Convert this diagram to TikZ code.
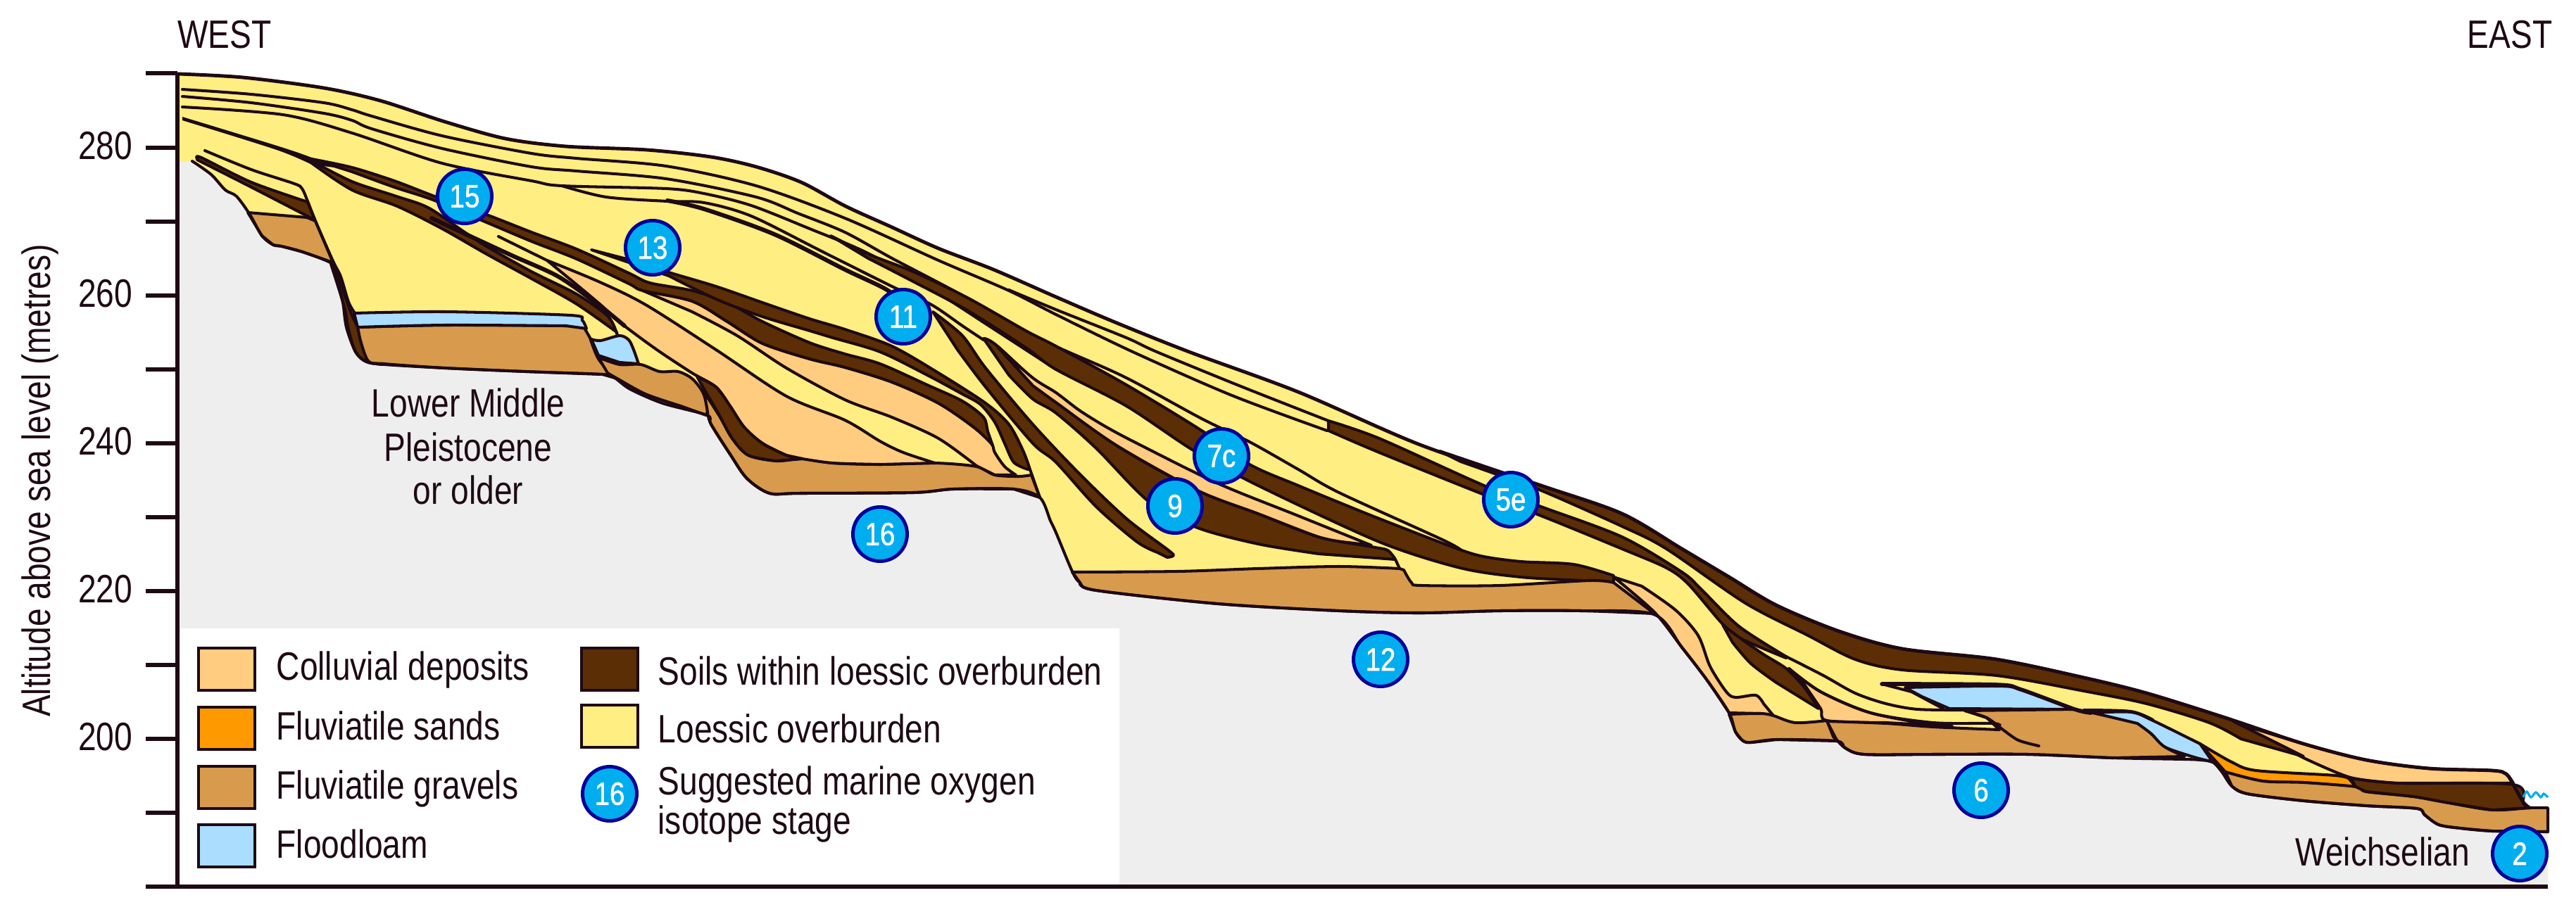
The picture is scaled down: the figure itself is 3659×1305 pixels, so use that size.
\documentclass[tikz,border=0pt]{standalone}
\usepackage{fontspec}
\setmainfont[FakeStretch=0.82]{Liberation Sans}
\newfontfamily\stagefont[FakeStretch=0.84,FakeBold=1.2]{Liberation Sans}
\usetikzlibrary{positioning,patterns}

\definecolor{ink}{HTML}{1E0A14}
\definecolor{groundgrey}{HTML}{EEEEEE}
\definecolor{loessc}{HTML}{FFEE82}
\definecolor{colluvc}{HTML}{FFCC80}
\definecolor{sandc}{HTML}{FF9900}
\definecolor{gravelc}{HTML}{D99A4D}
\definecolor{graveltick}{HTML}{CFA24E}
\definecolor{loamc}{HTML}{AADDFF}
\definecolor{soilc}{HTML}{5C2E06}
\definecolor{stagec}{HTML}{00ADEF}
\definecolor{ringc}{HTML}{000099}

\begin{document}
\begin{tikzpicture}[
    x = 0.01cm,
    y = -0.01cm,
    font = \fontsize{16}{18}\selectfont
  ]

  \tikzstyle {every node} = [color = ink, inner sep = 0]
  \tikzstyle {lyr} = [draw = ink, line width = 1.15pt, line join = round]
  \tikzstyle {seam} = [draw = ink, line width = 1.15pt, line cap = round]
  \tikzstyle {axisline} = [draw = ink, line width = 1.5pt]
  \tikzstyle {colluvial} = [lyr, fill = colluvc]
  \tikzstyle {sandlyr} = [lyr, fill = sandc]
  \tikzstyle {gravelfill} = [preaction = {fill = gravelc}, pattern = crosshatch dots, pattern color = graveltick]
  \tikzstyle {gravel} = [lyr, gravelfill]
  \tikzstyle {loam} = [lyr, fill = loamc]
  \tikzstyle {soil} = [lyr, fill = soilc]
  \tikzstyle {swatch} = [rectangle, draw = ink, line width = 1.3pt, minimum width = 0.8cm, minimum height = 0.6cm]
  \tikzstyle {lgd} = [anchor = base west]
  \tikzstyle {stage} = [circle, draw = ringc, line width = 1.4pt, fill = stagec, minimum size = 0.77cm, text = white, font = \fontsize{13}{13}\stagefont]

  \def\surfacecurve{plot[smooth] coordinates {(253,105) (345,110) (460,125) (540,143) (632,173) (718,197) (804,208) (919,213) (1010,223) (1074,237) (1138,259) (1201,293) (1265,322) (1333,353) (1411,383) (1500,422) (1584,458) (1689,500) (1844,557) (2017,632) (2189,690) (2304,730) (2389,780) (2456,820) (2523,860) (2612,897) (2702,922) (2836,937) (2960,963) (3049,985) (3161,1020) (3272,1057) (3361,1080) (3450,1092) (3540,1095) (3560,1100) (3571,1117) (3584,1140) (3593,1148)}}
  \def\basecurve{plot[smooth] coordinates {(273,229) (300,248) (320,270) (336,279) (355,305) (372,335) (388,348) (400,350) (430,358) (472,375) (478,395) (487,430) (492,465) (505,500) (520,514) (546,518) (632,523) (747,528) (856,532) (873,537) (895,553) (941,573) (1004,590) (1010,603) (1038,647) (1061,680) (1093,701) (1136,701) (1297,700) (1354,695) (1440,695) (1477,707) (1492,740) (1500,757) (1523,812) (1534,828) (1557,839) (1730,858) (1902,868) (2017,871) (2131,868) (2246,868) (2349,873) (2389,920) (2425,967) (2456,1013) (2465,1040) (2476,1053) (2487,1055) (2523,1051) (2608,1053) (2621,1063) (2648,1072) (2746,1072) (2880,1072) (3000,1077) (3103,1079) (3125,1080) (3143,1083) (3156,1097) (3170,1117) (3192,1128) (3272,1138) (3361,1145) (3433,1149) (3444,1158) (3464,1172) (3495,1177) (3540,1181) (3619,1182)}}

  \useasboundingbox (0,0) rectangle (3659,1305);

  % ground and loess body
  \fill [loessc] \surfacecurve -- (3619,1148) -- (3619,1260) -- (253,1260) -- cycle;
  \fill [groundgrey] \basecurve -- (3619,1260) -- (253,1260) -- (253,230) -- cycle;
  \fill [white] (256,893) rectangle (1590,1257);

  % west bench
  \draw [gravel] (352,302) -- (436,309) -- (448,314) -- (473,373) -- (430,358) -- (400,350) -- (388,348) -- (372,335) -- cycle;
  \draw [soil] plot[smooth] coordinates {(280,225) (286,224) (357,259) (437,287)} -- (448,314) -- plot[smooth] coordinates {(446,312) (357,266) (280,227)} -- cycle;
  \draw [seam] plot[smooth] coordinates {(291,214) (357,241) (418,261) (429,268) (437,286) (448,314) (473,371) (484,393) (495,429) (504,445)};
  \draw [soil] plot[smooth] coordinates {(470,375) (489,436) (495,468) (505,500) (521,514) (543,518)} -- plot[smooth] coordinates {(543,516) (521,500) (511,471) (498,443) (473,371)} -- cycle;

  % floodloam and gravels below the loess
  \draw [gravel] plot[smooth] coordinates {(508,465) (632,462) (804,463) (830,466)} -- plot[smooth] coordinates {(838,480) (850,510) (873,537)} -- plot[smooth] coordinates {(856,532) (747,528) (632,523) (546,517) (523,513) (511,480)} -- cycle;
  \draw [loam] plot[smooth] coordinates {(503,445) (632,443) (810,448) (827,455) (833,467)} -- plot[smooth] coordinates {(804,463) (632,462) (508,465)} -- cycle;
  \draw [gravel] plot[smooth] coordinates {(850,508) (880,518) (910,518) (937,528) (963,528) (983,538) (998,557) (1005,580) (1003,590)} -- plot[smooth] coordinates {(967,577) (917,560) (875,537) (863,530)} -- cycle;
  \draw [loam] plot[smooth] coordinates {(840,482) (853,484) (880,477) (893,483) (900,497) (907,517)} -- plot[smooth] coordinates {(880,515) (850,505)} -- cycle;

  % colluvial fans
  \draw [gravel] plot[smooth] coordinates {(1000,557) (1023,593) (1040,623) (1063,647) (1103,655) (1140,652) (1183,658) (1250,660) (1328,658) (1387,663) (1413,675) (1447,677) (1465,675)} -- (1477,707) -- plot[smooth] coordinates {(1440,695) (1354,695) (1297,700) (1136,701) (1093,701) (1061,680) (1038,647) (1010,603) (1005,585)} -- cycle;
  \draw [colluvial] plot[smooth] coordinates {(777,370) (850,400) (917,433) (1017,497) (1117,563) (1200,597) (1250,627) (1283,643) (1328,658)} -- plot[smooth] coordinates {(1250,660) (1183,658) (1140,652)} -- plot[smooth] coordinates {(1117,647) (1083,630) (1057,607) (1037,577) (1017,550) (983,530) (933,497) (883,460) (853,433) (810,397)} -- cycle;
  \draw [soil] plot[smooth] coordinates {(990,535) (1017,550) (1037,577) (1057,607) (1083,630) (1117,647) (1140,652)} -- plot[smooth] coordinates {(1103,655) (1063,647) (1040,623) (1020,587) (1000,553)} -- cycle;
  \draw [colluvial] plot[smooth] coordinates {(913,413) (983,428) (1033,457) (1083,488) (1150,510) (1200,522) (1267,543) (1333,573) (1383,607) (1408,630) (1413,643) (1427,663) (1443,675)} -- (1413,675) -- plot[smooth] coordinates {(1387,662) (1333,623) (1267,593) (1200,568) (1117,523) (1047,477) (983,443)} -- cycle;
  \draw [soil] plot[smooth] coordinates {(443,226) (500,238) (560,257) (620,280) (691,305) (755,330) (819,354) (893,388) (923,402) (983,413) (1033,430) (1083,457) (1150,487) (1200,503) (1250,517) (1317,547) (1367,570) (1397,593) (1403,613) (1410,633)} -- plot[smooth] coordinates {(1408,630) (1383,607) (1333,573) (1267,543) (1200,522) (1150,510) (1083,488) (1033,457) (983,428) (913,413) (893,403) (819,368) (755,343) (691,316) (615,284) (560,266) (500,244)} -- cycle;
  \draw [soil] plot[smooth] coordinates {(840,355) (927,378) (950,387) (1017,407) (1083,430) (1150,453) (1200,468) (1267,492) (1333,530) (1400,573) (1433,603) (1453,640) (1463,667)} -- plot[smooth] coordinates {(1460,667) (1440,657) (1427,630) (1413,600) (1393,575) (1367,560) (1317,533) (1250,500) (1183,480) (1150,470) (1083,450) (1017,425) (950,392)} -- cycle;
  \draw [seam] (1463,667) -- (1477,707);

  % soils running off the first wedge
  \fill [ink] plot[smooth] coordinates {(259,166) (393,207) (443,224) (475,238)} -- plot[smooth] coordinates {(443,234) (393,213) (259,171)} -- cycle;
  \draw [soil] plot[smooth] coordinates {(443,229) (500,258) (560,278) (608,295) (660,330) (691,350) (755,386) (819,418) (864,450) (877,477)} -- plot[smooth] coordinates {(876,472) (819,432) (755,396) (691,361) (628,325) (564,293) (500,270) (443,232)} -- cycle;
  \draw [seam, line width = 1.7pt] plot[smooth] coordinates {(613,310) (660,332) (727,363) (793,393) (850,433) (887,463)};
  \draw [seam] plot[smooth] coordinates {(708,336) (777,370)};

  % loess seams
  \draw [seam] plot[smooth] coordinates {(259,127) (357,134) (460,146) (500,156) (528,165) (628,193) (755,218) (819,225) (946,236) (1074,264) (1200,310) (1333,370) (1433,413) (1500,447) (1609,500) (1750,562) (1885,612)};
  \draw [seam] plot[smooth] coordinates {(1433,412) (1500,440) (1600,480) (1643,500) (1760,548) (1887,598)};
  \draw [seam] plot[smooth] coordinates {(259,137) (357,146) (460,161) (500,171) (528,183) (628,211) (755,237) (819,243) (946,254) (1074,280) (1133,303) (1200,330) (1267,367) (1367,420) (1433,463) (1517,500) (1600,537) (1707,595) (1775,628) (1844,667) (1902,700) (2051,768) (2078,784)};
  \draw [seam] plot[smooth] coordinates {(259,152) (402,163) (500,189) (628,232) (755,257) (798,264) (946,268) (1000,275) (1067,292) (1150,325) (1233,360) (1333,417) (1400,460) (1500,525)};
  \draw [seam] plot[smooth] coordinates {(798,264) (861,280) (948,286) (1000,288) (1067,307) (1167,357) (1267,407) (1323,433) (1367,463) (1397,483)};
  \draw [seam, line width = 1.7pt] plot[smooth] coordinates {(948,285) (1000,297) (1100,333) (1200,383) (1260,412) (1290,438)};

  % second group of soils
  \draw [soil] plot[smooth] coordinates {(1180,335) (1233,361) (1297,386) (1374,423) (1457,470) (1500,492) (1600,547) (1707,612) (1775,660) (1844,690) (1902,714) (1959,737) (2057,775) (2103,790) (2160,798) (2235,802) (2292,818)} -- plot[smooth] coordinates {(2292,828) (2246,825) (2160,820) (2074,807) (1959,770) (1787,690) (1695,640) (1600,577) (1500,525) (1457,494) (1374,441) (1297,400) (1233,367)} -- cycle;
  \draw [soil] plot[smooth] coordinates {(1397,481) (1417,492) (1500,568) (1586,633) (1701,697) (1787,730) (1873,763) (1948,777) (1971,782) (1982,795)} -- plot[smooth] coordinates {(1873,787) (1787,773) (1701,750) (1632,713) (1557,637) (1500,587) (1467,567) (1433,533)} -- cycle;
  \draw [colluvial] plot[smooth] coordinates {(1417,493) (1467,537) (1500,558) (1533,583) (1570,606) (1615,630) (1730,687) (1844,733) (1948,775)} -- plot[smooth] coordinates {(1915,771) (1873,763) (1787,730) (1701,697) (1586,633) (1500,572) (1467,548)} -- cycle;
  \draw [soil] plot[smooth] coordinates {(1325,443) (1367,477) (1400,523) (1467,603) (1533,673) (1600,737) (1661,783) (1666,790) (1658,792)} -- plot[smooth] coordinates {(1644,785) (1615,770) (1557,720) (1500,657) (1467,630) (1400,550) (1360,497)} -- cycle;
  \draw [gravel] plot[smooth] coordinates {(1523,813) (1672,812) (1787,808) (1902,805) (1988,808)} -- plot[smooth] coordinates {(1994,810) (2005,828) (2019,832) (2131,832) (2258,825) (2292,828)} -- plot[smooth] coordinates {(2350,872) (2246,868) (2131,868) (2017,871) (1902,868) (1730,858) (1557,839) (1534,828)} -- cycle;
  \draw [seam] plot[smooth] coordinates {(1982,795) (1988,808)};

  % eastern slope
  \draw [soil] plot[smooth] coordinates {(1887,598) (1959,623) (2108,690) (2189,720) (2304,763) (2389,813) (2416,837) (2470,890) (2537,933)} -- plot[smooth] coordinates {(2537,935) (2474,908) (2447,887) (2398,830) (2367,807) (2304,780) (2189,733) (2108,703) (1959,643) (1887,612)} -- cycle;
  \draw [colluvial] plot[smooth] coordinates {(2292,820) (2350,870) (2389,920) (2425,967) (2456,1013)} -- plot[smooth] coordinates {(2501,1014) (2519,1017)} -- plot[smooth] coordinates {(2505,1000) (2494,988) (2465,991) (2452,983) (2429,947) (2412,903) (2380,867) (2332,833)} -- cycle;
  \draw [soil] plot[smooth] coordinates {(2447,888) (2472,907) (2505,930) (2537,950) (2563,977) (2583,1007)} -- plot[smooth] coordinates {(2523,970) (2487,943) (2461,913)} -- cycle;
  \draw [colluvial] plot[smooth] coordinates {(2541,950) (2586,983) (2657,1013) (2746,1030) (2773,1032)} -- plot[smooth] coordinates {(2679,1027) (2595,1024) (2586,1007) (2563,973)} -- cycle;
  \draw [gravel] plot[smooth] coordinates {(2456,1015) (2501,1014) (2519,1017) (2550,1027) (2595,1024)} -- plot[smooth] coordinates {(2604,1047) (2610,1053)} -- plot[smooth] coordinates {(2523,1051) (2487,1055) (2476,1053) (2465,1040)} -- cycle;
  \draw [gravel] plot[smooth] coordinates {(2595,1025) (2679,1028) (2746,1033) (2840,1037)} -- (2822,1020) -- (2791,1010) -- plot[smooth] coordinates {(2947,1008) (2973,1013) (3036,1028) (3056,1043) (3076,1062) (3103,1075)} -- plot[smooth] coordinates {(3000,1077) (2880,1072) (2746,1072) (2648,1072) (2621,1063) (2608,1050)} -- cycle;
  \draw [seam] plot[smooth] coordinates {(2791,1010) (2822,1020) (2845,1037) (2867,1052) (2896,1060)};
  \draw [seam] plot[smooth] coordinates {(2537,933) (2590,960) (2635,985) (2679,1000) (2724,1008) (2791,1009)};
  \draw [seam] plot[smooth] coordinates {(2541,950) (2586,983) (2657,1013) (2746,1027) (2831,1028) (2840,1032)};
  \draw [loam] plot[smooth] coordinates {(2706,977) (2836,975) (2871,980) (2947,1008)} -- (2769,1007) -- (2730,990) -- cycle;
  \draw [seam, line width = 1.6pt] plot[smooth] coordinates {(2673,972) (2836,973) (2871,980) (2947,1008) (2970,1013)};
  \draw [seam] (2673,972) -- (2715,983) -- (2760,1007);
  \draw [loam] plot[smooth] coordinates {(2973,1013) (3027,1012) (3058,1024) (3125,1057)} -- (3143,1083) -- plot[smooth] coordinates {(3120,1077) (3076,1062) (3056,1043) (3036,1028)} -- cycle;
  \draw [seam] plot[smooth] coordinates {(2960,1009) (3027,1011) (3058,1023)};

  % river end of the section
  \draw [sandlyr] plot[smooth] coordinates {(3125,1057) (3170,1083) (3205,1095) (3317,1102) (3337,1107)} -- (3346,1118) -- plot[smooth] coordinates {(3272,1112) (3214,1110) (3161,1097)} -- cycle;
  \draw [gravel] plot[smooth] coordinates {(3161,1097) (3214,1110) (3272,1112) (3346,1118) (3361,1125) (3428,1132) (3473,1140) (3540,1151) (3593,1148) (3619,1148)} -- (3619,1182) -- plot[smooth] coordinates {(3540,1181) (3495,1177) (3464,1172) (3444,1158) (3433,1149) (3361,1145) (3272,1138) (3192,1128) (3170,1117)} -- cycle;
  \draw [colluvial] plot[smooth] coordinates {(3178,1028) (3272,1057) (3361,1080) (3450,1092) (3540,1095) (3560,1100) (3570,1113)} -- plot[smooth] coordinates {(3406,1113) (3339,1105) (3272,1077)} -- cycle;
  \draw [soil] plot[smooth] coordinates {(3339,1106) (3406,1113) (3570,1115) (3584,1142) (3593,1148)} -- plot[smooth] coordinates {(3540,1151) (3473,1140) (3428,1132) (3361,1125)} -- (3346,1118) -- cycle;
  \draw [soil] plot[smooth] coordinates {(2045,641) (2189,690) (2304,730) (2389,780) (2456,820) (2523,860) (2612,897) (2702,922) (2836,937) (2960,963) (3049,985) (3161,1020) (3178,1028) (3272,1075)} -- plot[smooth] coordinates {(3183,1050) (3138,1027) (3049,1000) (2960,982) (2836,960) (2702,952) (2635,937) (2568,903) (2479,857) (2367,780) (2304,748) (2189,697) (2120,672) (2075,656)} -- cycle;
  \draw [draw = stagec, line width = 0.9pt] plot[smooth] coordinates {(3584,1133) (3589,1125) (3595,1133) (3602,1126) (3609,1133) (3613,1128) (3619,1133)};

  % outlines
  \draw [seam, line width = 1.4pt] \surfacecurve;
  \draw [seam] \basecurve;

  % axes
  \draw [axisline] (252,104) -- (252,1260);
  \draw [axisline] (207,1260) -- (3619,1260);
  \foreach \tk in {104,315,525,735,945,1155}
    \draw [axisline] (207,\tk) -- (252,\tk);
  \foreach \tk/\alt in {210/280,420/260,630/240,840/220,1050/200} {
    \draw [axisline] (207,\tk) -- (252,\tk);
    \node [anchor = base east] (alt\alt) at (189,\tk+16) {\alt};
  }
  \node [rotate = 90] (altlabel) at (57,683) {Altitude above sea level (metres)};
  \node (west) at (319,49) {WEST};
  \node (east) at (3565,49) {EAST};

  % labels on the section
  \node [anchor = base] (lower) at (665,592) {Lower Middle};
  \node [anchor = base] (pleist) at (665,655) {Pleistocene};
  \node [anchor = base] (older) at (665,716) {or older};
  \node [anchor = base east] (weich) at (3509,1230) {Weichselian};

  % legend
  \node [swatch, fill = colluvc] (lcolluvial) at (322,951) {};
  \node [swatch, fill = sandc] (lsands) at (322,1035) {};
  \node [swatch, gravelfill] (lgravels) at (322,1119) {};
  \node [swatch, fill = loamc] (lloam) at (322,1202) {};
  \node [swatch, fill = soilc] (lsoil) at (866,951) {};
  \node [swatch, fill = loessc] (lloess) at (866,1032) {};
  \node [lgd] (tcolluvial) at (392,966) {Colluvial deposits};
  \node [lgd] (tsands) at (392,1051) {Fluviatile sands};
  \node [lgd] (tgravels) at (392,1135) {Fluviatile gravels};
  \node [lgd] (tloam) at (392,1219) {Floodloam};
  \node [lgd] (tsoil) at (934,973) {Soils within loessic overburden};
  \node [lgd] (tloess) at (934,1055) {Loessic overburden};
  \node [lgd] (tstage) at (934,1129) {Suggested marine oxygen};
  \node [lgd] (tstage2) at (934,1185) {isotope stage};

  % isotope stages
  \node [stage] (s15) at (660,279) {15};
  \node [stage] (s13) at (927,352) {13};
  \node [stage] (s11) at (1283,450) {11};
  \node [stage] (s16) at (1250,759) {16};
  \node [stage] (s9) at (1669,719) {9};
  \node [stage] (s7c) at (1735,648) {7c};
  \node [stage] (s5e) at (2146,710) {5e};
  \node [stage] (s12) at (1961,937) {12};
  \node [stage] (s6) at (2814,1123) {6};
  \node [stage] (s2) at (3579,1213) {2};
  \node [stage] (lstage) at (866,1128) {16};
\end{tikzpicture}
\end{document}
